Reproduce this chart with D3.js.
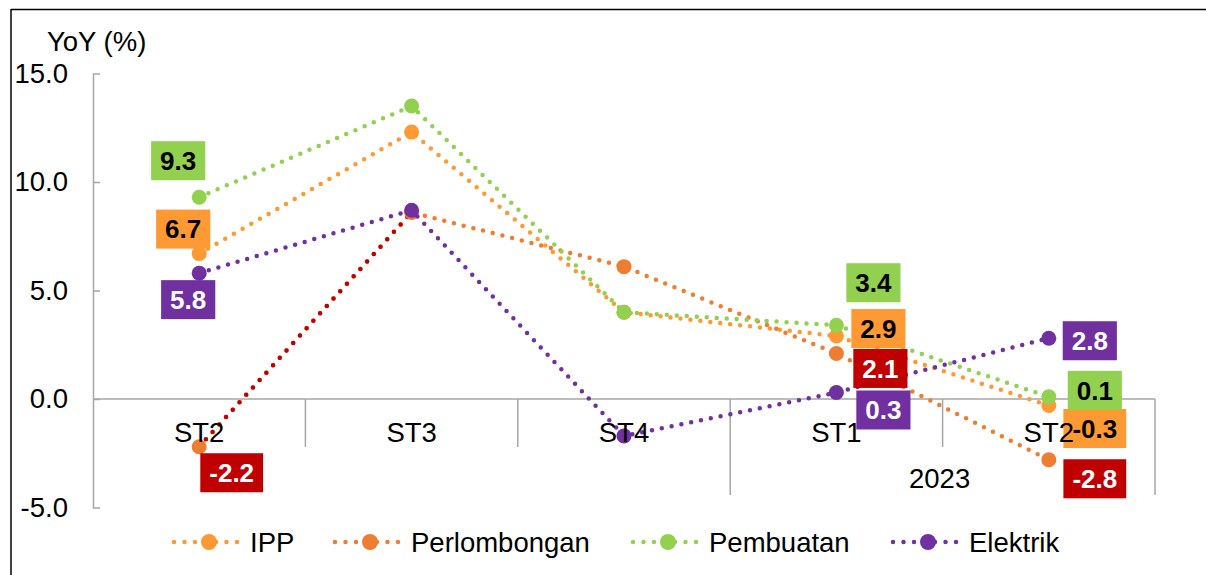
<!DOCTYPE html>
<html>
<head>
<meta charset="utf-8">
<script src="https://cdn.jsdelivr.net/npm/d3@7"></script>
<style>
  html, body { margin: 0; padding: 0; background: #fff; }
  svg { display: block; font-family: "Liberation Sans", Arial, sans-serif; }
</style>
</head>
<body>
<svg id="chart" width="1206" height="575"></svg>
<script>
// ---- data ----
const categories = ["ST2", "ST3", "ST4", "ST1", "ST2"];
const yearLabel = "2023";
const yTicks = [-5, 0, 5, 10, 15];
const seriesNames = ["IPP", "Perlombongan", "Pembuatan", "Elektrik"];
const ipp          = [6.7, 12.3, 4.0, 2.9, -0.3];
const perlombongan = [-2.2, 8.6, 6.1, 2.1, -2.8];
const pembuatan    = [9.3, 13.5, 4.0, 3.4, 0.1];
const elektrik     = [5.8, 8.7, -1.7, 0.3, 2.8];
const labelledIdx  = [0, 3, 4];

// ---- layout / style ----
const W = 1206, H = 575;
const x0 = 93, x1 = 1155, yTop = 73.5, yBot = 507.5;
const svg = d3.select("#chart");
const fontSize = "27.5px";

const colors = {
  IPP: "#FF9933", Perlombongan: "#ED7D31", Pembuatan: "#92D050", Elektrik: "#7030A0"
};
const boxFill = {
  IPP: "#FF9933", Perlombongan: "#C00000", Pembuatan: "#92D050", Elektrik: "#7030A0"
};
const boxText = { IPP: "#000", Perlombongan: "#fff", Pembuatan: "#000", Elektrik: "#fff" };
const firstSegColor = { Perlombongan: "#C00000" };
// label box centre offsets from the point (per labelled index)
const labelOffsets = {
  IPP:          [[-16, -24.5], [42, -7.5], [46, 23]],
  Perlombongan: [[32.5, 26], [44, 15], [46, 19]],
  Pembuatan:    [[-21, -36.5], [37, -42.5], [46, -6.5]],
  Elektrik:     [[-11, 26.5], [47, 17.5], [41, 2.5]]
};

const seriesData = {
  IPP: ipp, Perlombongan: perlombongan, Pembuatan: pembuatan, Elektrik: elektrik
};

const fmt = v => v.toFixed(1); // hyphen-minus like the original

// frame
svg.append("line").attr("x1", 11).attr("x2", W).attr("y1", 9.5).attr("y2", 9.5)
  .attr("stroke", "#000").attr("stroke-width", 1.5);
svg.append("line").attr("x1", 11).attr("x2", 11).attr("y1", 9).attr("y2", H)
  .attr("stroke", "#000").attr("stroke-width", 1.5);

// scales
const idx = categories.map((d, i) => i);
const x = d3.scaleBand().domain(idx).range([x0, x1]).paddingInner(0).paddingOuter(0);
const cx = i => x(i) + x.bandwidth() / 2;
const y = d3.scaleLinear().domain([-5, 15]).range([yBot, yTop]);

const axisColor = "#A6A6A6";

// y axis
const yAxis = d3.axisLeft(y).tickValues(yTicks).tickFormat(fmt)
  .tickSizeInner(-7).tickSizeOuter(0).tickPadding(25);
const gy = svg.append("g").attr("transform", `translate(${x0},0)`).call(yAxis);
gy.select(".domain").attr("stroke", axisColor).attr("stroke-width", 1.5);
gy.selectAll(".tick line").attr("stroke", axisColor).attr("stroke-width", 1.5);
gy.selectAll(".tick text").attr("fill", "#000").style("font-size", fontSize)
  .attr("font-family", "Liberation Sans, Arial, sans-serif");

svg.append("text").attr("x", 47).attr("y", 51).text("YoY (%)")
  .style("font-size", fontSize).attr("fill", "#000");

// x axis (at y = 0)
const y0 = y(0);
svg.append("line").attr("x1", x0).attr("x2", x1).attr("y1", y0).attr("y2", y0)
  .attr("stroke", axisColor).attr("stroke-width", 1.5);
// separators
idx.slice(1).concat([categories.length]).forEach(i => {
  const xx = i < categories.length ? x(i) : x1;
  const long = (i === 3 || i === categories.length);
  svg.append("line").attr("x1", xx).attr("x2", xx).attr("y1", y0)
    .attr("y2", long ? 495 : 447).attr("stroke", axisColor).attr("stroke-width", 1.5);
});

// lines
const line = d3.line().x((d, i) => cx(i)).y(d => y(d));
const drawOrder = ["IPP", "Perlombongan", "Pembuatan", "Elektrik"];
const gLines = svg.append("g");
drawOrder.forEach(name => {
  const vals = seriesData[name];
  const g = gLines.append("g");
  g.append("path").attr("d", line(vals)).attr("fill", "none")
    .attr("stroke", colors[name]).attr("stroke-width", 4.5)
    .attr("stroke-dasharray", "0 10").attr("stroke-linecap", "round");
  if (firstSegColor[name]) {
    const segLine = d3.line().x(d => cx(d.i)).y(d => y(d.v));
    const seg = [{ i: 0, v: vals[0] }, { i: 1, v: vals[1] }];
    g.append("path").attr("d", segLine(seg)).attr("fill", "none")
      .attr("stroke", firstSegColor[name]).attr("stroke-width", 4.5)
      .attr("stroke-dasharray", "0 10").attr("stroke-linecap", "round");
  }
  g.selectAll("circle").data(vals).join("circle")
    .attr("cx", (d, i) => cx(i)).attr("cy", d => y(d)).attr("r", 7.5)
    .attr("fill", colors[name]);
});

// labels
const gLab = svg.append("g");
drawOrder.forEach(name => {
  const vals = seriesData[name];
  labelledIdx.forEach((i, k) => {
    const [dx, dy] = labelOffsets[name][k];
    const px = cx(i) + dx, py = y(vals[i]) + dy;
    const txt = fmt(vals[i]);
    const g = gLab.append("g");
    const t = g.append("text").attr("x", px).attr("y", py).attr("dy", "0.36em")
      .attr("text-anchor", "middle").style("font-size", "26px").style("font-weight", "bold")
      .attr("fill", boxText[name]).text(txt);
    const bw = t.node().getComputedTextLength() + 18;
    g.insert("rect", "text").attr("x", px - bw / 2).attr("y", py - 19.5)
      .attr("width", bw).attr("height", 39).attr("fill", boxFill[name]);
  });
});

// category labels (drawn on top, as in the original)
svg.append("g").selectAll("text").data(idx).join("text")
  .attr("x", i => cx(i)).attr("y", 432).attr("dy", "0.35em")
  .attr("text-anchor", "middle").style("font-size", fontSize).attr("fill", "#000")
  .text(i => categories[i]);
svg.append("text").attr("x", (x(3) + x1) / 2 - 3).attr("y", 478).attr("dy", "0.35em")
  .attr("text-anchor", "middle").style("font-size", fontSize).attr("fill", "#000")
  .text(yearLabel);

// legend
const legendItems = [
  { name: "IPP", cx: 209 },
  { name: "Perlombongan", cx: 370 },
  { name: "Pembuatan", cx: 668 },
  { name: "Elektrik", cx: 928 }
];
const ly = 542;
const gLeg = svg.append("g");
legendItems.forEach(it => {
  const g = gLeg.append("g");
  g.append("line").attr("x1", it.cx - 35).attr("x2", it.cx + 35).attr("y1", ly).attr("y2", ly)
    .attr("stroke", colors[it.name]).attr("stroke-width", 4.5)
    .attr("stroke-dasharray", "0 10.5").attr("stroke-linecap", "round");
  g.append("circle").attr("cx", it.cx).attr("cy", ly).attr("r", 8).attr("fill", colors[it.name]);
  g.append("text").attr("x", it.cx + 41).attr("y", ly).attr("dy", "0.35em")
    .style("font-size", fontSize).attr("fill", "#000").text(it.name);
});
</script>
</body>
</html>
